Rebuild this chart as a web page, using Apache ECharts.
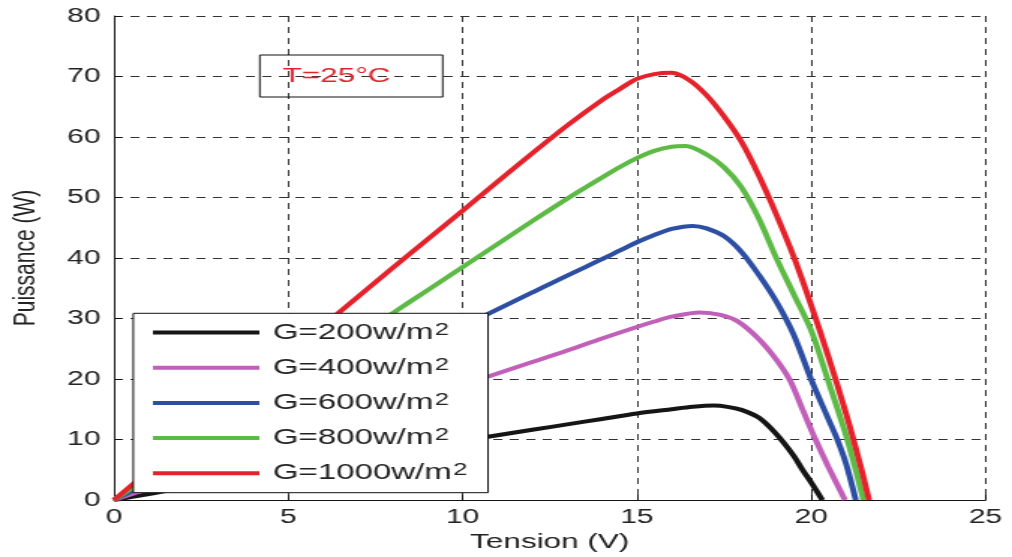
<!DOCTYPE html>
<html><head><meta charset="utf-8">
<script src="https://cdn.jsdelivr.net/npm/echarts@6/dist/echarts.min.js"></script>
<style>
html,body{margin:0;padding:0;background:#fff;overflow:hidden}
#wrap{width:1012px;height:557px;overflow:hidden;position:relative}
#c{width:675px;height:557px;transform:scaleX(1.49926);transform-origin:0 0}
</style>
</head><body><div id="wrap"><div id="c"></div></div>
<script>
const xTicks = [0, 5, 10, 15, 20, 25];
const yTicks = [0, 10, 20, 30, 40, 50, 60, 70, 80];
const seriesNames = ['G=200w/m2', 'G=400w/m2', 'G=600w/m2', 'G=800w/m2', 'G=1000w/m2'];
const seriesColors = ['#151515', '#c15fb9', '#2c4ea3', '#5cba45', '#e5222b'];

const g200 = [[0,0],[1,1.0],[2,2.0],[3,2.9],[4,3.9],[5,4.9],[6,5.9],[7,6.9],[8,7.9],[9,8.9],[10,9.8],[11,10.7],[12,11.6],[13,12.5],[14,13.4],[15,14.3],[16,15.0],[16.6,15.4],[17.2,15.6],[17.6,15.4],[18,14.9],[18.5,13.6],[19,10.9],[19.5,7.3],[19.75,5.0],[20,2.9],[20.32,0]];
const g400 = [[0,0],[1,1.9],[2,3.8],[3,5.7],[4,7.6],[5,9.5],[6,11.4],[7,13.3],[8,15.2],[9,17.1],[10,19.0],[11,20.9],[12,22.8],[13,24.7],[14,26.7],[15,28.6],[15.5,29.5],[16,30.3],[16.8,31.0],[17.4,30.6],[17.9,29.5],[18.5,26.6],[19,23.2],[19.4,19.7],[19.75,15.0],[20.1,10.3],[20.5,5.4],[20.97,0]];
const g600 = [[0,0],[1,2.88],[2,5.76],[3,8.6],[4,11.5],[5,14.4],[6,17.3],[7,20.1],[8,23.0],[9,25.9],[10,28.7],[11,31.5],[12,34.3],[13,37.1],[14,39.8],[14.5,41.2],[15,42.6],[15.5,43.8],[16,44.8],[16.6,45.3],[17,44.9],[17.5,43.6],[18,41.0],[18.5,37.2],[19,32.8],[19.5,27.3],[20,19.9],[20.5,13.3],[20.75,10.0],[21,6.0],[21.28,0]];
const g800 = [[0,0],[1,3.86],[2,7.7],[3,11.6],[4,15.4],[5,19.3],[6,23.1],[7,27.0],[8,30.9],[9,34.7],[10,38.5],[11,42.3],[12,46.1],[13,49.8],[14,53.3],[14.5,55.0],[15,56.5],[15.5,57.7],[16,58.4],[16.4,58.5],[17,57.1],[17.5,55.0],[18,51.7],[18.5,46.5],[19,40.0],[19.5,34.0],[20,28.0],[20.5,19.5],[21,10.7],[21.3,4.5],[21.5,0]];
const g1000 = [[0,0],[1,4.8],[2,9.6],[3,14.4],[4,19.2],[5,24.0],[6,28.8],[7,33.6],[8,38.4],[9,43.1],[10,47.8],[11,52.6],[12,57.3],[13,61.9],[14,66.1],[14.5,67.9],[15,69.6],[15.5,70.4],[16,70.6],[16.5,69.4],[17,66.9],[17.5,63.4],[18,59.2],[18.5,53.6],[19,47.2],[19.5,40.2],[20,32.2],[20.5,23.6],[21,14.3],[21.4,6.0],[21.66,0]];
const seriesData = [g200, g400, g600, g800, g1000];
const tempLabel = 'T=25°C';
const xName = 'Tension (V)';
const yName = 'Puissance (W)';

const FONT = 'Liberation Sans';
const chart = echarts.init(document.getElementById('c'), null, {renderer: 'canvas'});
const gridDash = {type: [6, 5], color: '#333', width: 1};

chart.setOption({
  animation: false,
  backgroundColor: '#fff',
  grid: {left: 76, right: 17.7, top: 16, bottom: 57, containLabel: false, outerBoundsMode: 'none'},
  xAxis: {
    type: 'value', min: xTicks[0], max: xTicks[xTicks.length - 1], interval: 5,
    name: xName, nameLocation: 'middle', nameGap: 32,
    nameTextStyle: {fontFamily: FONT, fontSize: 21, color: '#222'},
    axisLine: {show: true, lineStyle: {color: '#111', width: 1}},
    axisTick: {show: true, inside: true, length: 5, lineStyle: {color: '#111'}},
    axisLabel: {fontFamily: FONT, fontSize: 20, color: '#222', margin: 7},
    splitLine: {show: true, lineStyle: gridDash}
  },
  yAxis: {
    type: 'value', min: yTicks[0], max: yTicks[yTicks.length - 1], interval: 10,
    name: yName, nameLocation: 'middle', nameGap: 48, nameRotate: 90,
    nameTextStyle: {fontFamily: FONT, fontSize: 21, color: '#222'},
    axisLine: {show: true, lineStyle: {color: '#111', width: 1}},
    axisTick: {show: true, inside: true, length: 5, lineStyle: {color: '#111'}},
    axisLabel: {fontFamily: FONT, fontSize: 20, color: '#222', margin: 9},
    splitLine: {show: true, lineStyle: gridDash}
  },
  legend: {
    orient: 'vertical', left: 102, top: 321.5, z: 20,
    padding: 0, itemGap: 8.2, itemWidth: 71, itemHeight: 4,
    icon: 'rect',
    data: seriesNames,
    formatter: function (n) { return '{a|' + n.slice(0, -1) + '}{s|2}'; },
    textStyle: {
      fontFamily: FONT, fontSize: 22, color: '#222',
      rich: {
        a: {fontFamily: FONT, fontSize: 22, lineHeight: 22, color: '#222', padding: [0, 0, 0, 4]},
        s: {fontFamily: FONT, fontSize: 17, lineHeight: 17, color: '#222', verticalAlign: 'top', padding: [0, 0, 10, 1]}
      }
    }
  },
  graphic: [
    {type: 'rect', z: 10, shape: {x: 88.9, y: 313.3, width: 236.6, height: 179.4},
     style: {fill: '#fff', stroke: '#111', lineWidth: 1}},
    {type: 'rect', z: 10, shape: {x: 173.3, y: 55, width: 122, height: 42},
     style: {fill: 'none', stroke: '#111', lineWidth: 1}},
    {type: 'text', z: 11, x: 224.5, y: 76,
     style: {text: tempLabel, fill: '#e5222b', font: '21px "Liberation Sans"', textAlign: 'center', textVerticalAlign: 'middle'}}
  ],
  series: seriesNames.map(function (name, i) {
    return {
      name: name, type: 'line', data: seriesData[i], showSymbol: false, symbol: 'none',
      smooth: 0.3, z: 2 + i,
      lineStyle: {color: seriesColors[i], width: 4},
      itemStyle: {color: seriesColors[i]}
    };
  })
});
</script>
</body></html>
